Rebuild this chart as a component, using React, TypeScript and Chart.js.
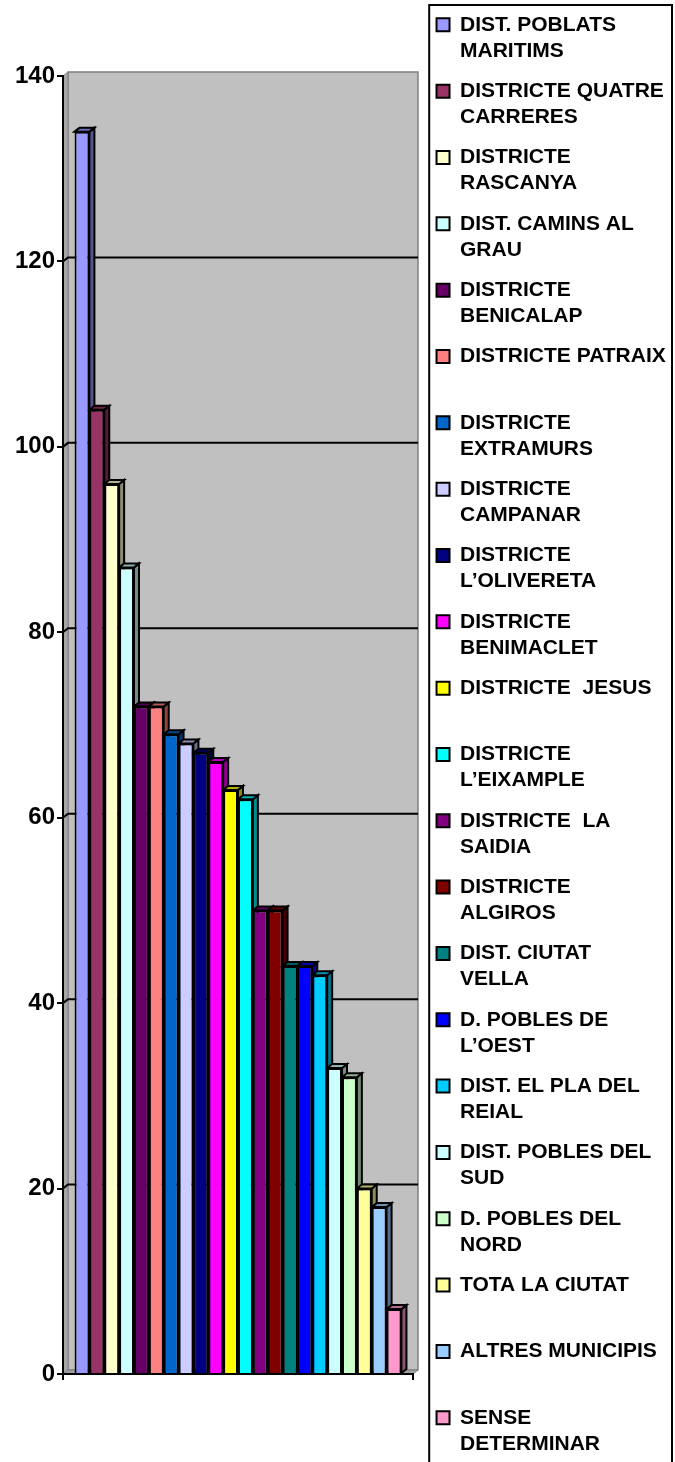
import React, { useEffect, useRef } from 'react';
import { Chart, registerables } from 'chart.js';

Chart.register(...registerables);

const categories = [''];

const districtNames: string[][] = [
  ['DIST. POBLATS', 'MARITIMS'],
  ['DISTRICTE QUATRE', 'CARRERES'],
  ['DISTRICTE', 'RASCANYA'],
  ['DIST. CAMINS AL', 'GRAU'],
  ['DISTRICTE', 'BENICALAP'],
  ['DISTRICTE PATRAIX'],
  ['DISTRICTE', 'EXTRAMURS'],
  ['DISTRICTE', 'CAMPANAR'],
  ['DISTRICTE', 'L\u2019OLIVERETA'],
  ['DISTRICTE', 'BENIMACLET'],
  ['DISTRICTE  JESUS'],
  ['DISTRICTE', 'L\u2019EIXAMPLE'],
  ['DISTRICTE  LA', 'SAIDIA'],
  ['DISTRICTE', 'ALGIROS'],
  ['DIST. CIUTAT', 'VELLA'],
  ['D. POBLES DE', 'L\u2019OEST'],
  ['DIST. EL PLA DEL', 'REIAL'],
  ['DIST. POBLES DEL', 'SUD'],
  ['D. POBLES DEL', 'NORD'],
  ['TOTA LA CIUTAT'],
  ['ALTRES MUNICIPIS'],
  ['SENSE', 'DETERMINAR'],
];

const districtValues = [134, 104, 96, 87, 72, 72, 69, 68, 67, 66, 63, 62, 50, 50, 44, 44, 43, 33, 32, 20, 18, 7];

const districtColors = [
  '#9999FF', '#993366', '#FFFFCC', '#CCFFFF', '#660066', '#FF8080', '#0066CC', '#CCCCFF',
  '#000080', '#FF00FF', '#FFFF00', '#00FFFF', '#800080', '#800000', '#008080', '#0000FF',
  '#00CCFF', '#CCFFFF', '#CCFFCC', '#FFFF99', '#99CCFF', '#FF99CC',
];

const yMin = 0;
const yMax = 140;
const yStep = 20;

const W = 675;
const H = 1520;
const DX = 5;
const DY = 4;
const FONT = "'Liberation Sans', Arial, sans-serif";

function shade(hex: string, f: number): string {
  const n = parseInt(hex.slice(1), 16);
  const r = Math.round(((n >> 16) & 255) * f);
  const g = Math.round(((n >> 8) & 255) * f);
  const b = Math.round((n & 255) * f);
  return `rgb(${r},${g},${b})`;
}

function poly(ctx: CanvasRenderingContext2D, pts: number[][], fill: string, stroke: string, lw: number) {
  ctx.beginPath();
  ctx.moveTo(pts[0][0], pts[0][1]);
  for (let i = 1; i < pts.length; i++) ctx.lineTo(pts[i][0], pts[i][1]);
  ctx.closePath();
  ctx.fillStyle = fill;
  ctx.fill();
  ctx.strokeStyle = stroke;
  ctx.lineWidth = lw;
  ctx.lineJoin = 'miter';
  ctx.stroke();
}

const wallPlugin = {
  id: 'wall3d',
  beforeDraw(chart: any) {
    const { ctx, chartArea } = chart;
    const { left, right, top, bottom } = chartArea;
    const y = chart.scales.y;
    ctx.save();
    ctx.fillStyle = '#C0C0C0';
    ctx.fillRect(left + DX, top - DY, right - left, bottom - top);
    ctx.strokeStyle = '#808080';
    ctx.lineWidth = 1.5;
    ctx.strokeRect(left + DX, top - DY, right - left, bottom - top);
    poly(ctx, [[left, top], [left + DX, top - DY], [left + DX, bottom - DY], [left, bottom]], '#A6A6A6', '#808080', 1);
    poly(ctx, [[left, bottom], [left + DX, bottom - DY], [right + DX, bottom - DY], [right, bottom]], '#A0A0A0', '#808080', 1);
    ctx.strokeStyle = '#000';
    ctx.lineWidth = 2;
    y.ticks.forEach((t: any) => {
      if (t.value <= yMin || t.value >= yMax) return;
      const py = y.getPixelForValue(t.value);
      ctx.beginPath();
      ctx.moveTo(left, py);
      ctx.lineTo(left + DX, py - DY);
      ctx.lineTo(right + DX, py - DY);
      ctx.stroke();
    });
    ctx.restore();
  },
  beforeDatasetsDraw(chart: any) {
    const { ctx } = chart;
    ctx.save();
    chart.data.datasets.forEach((ds: any, i: number) => {
      const meta = chart.getDatasetMeta(i);
      meta.data.forEach((el: any) => {
        const { x, y, base, width } = el.getProps(['x', 'y', 'base', 'width'], true);
        const l = x - width / 2;
        const r = x + width / 2;
        const col = districtColors[i];
        poly(ctx, [[r, y], [r + DX, y - DY], [r + DX, base - DY], [r, base]], shade(col, 0.55), '#000', 2);
        poly(ctx, [[l, y], [l + DX, y - DY], [r + DX, y - DY], [r, y]], shade(col, 0.7), '#000', 2);
      });
    });
    ctx.restore();
  },
  afterDraw(chart: any) {
    const { ctx } = chart;
    const lg = chart.legend;
    if (!lg) return;
    ctx.save();
    ctx.strokeStyle = '#000';
    ctx.lineWidth = 2;
    ctx.strokeRect(lg.left + 7, lg.top + 5, W - 3 - (lg.left + 7), 1600);
    ctx.restore();
  },
};

export default function App() {
  const ref = useRef<HTMLCanvasElement | null>(null);

  useEffect(() => {
    if (!ref.current) return;
    const chart = new Chart(ref.current, {
      type: 'bar',
      data: {
        labels: categories,
        datasets: districtNames.map((name, i) => ({
          label: name.join(' '),
          data: [districtValues[i]],
          backgroundColor: districtColors[i],
          borderColor: '#000',
          borderWidth: 2,
          barPercentage: 1,
          categoryPercentage: 0.934,
        })),
      },
      options: {
        responsive: false,
        maintainAspectRatio: false,
        animation: false,
        events: [],
        layout: { padding: 0 },
        plugins: {
          tooltip: { enabled: false },
          legend: {
            display: true,
            position: 'right',
            align: 'start',
            maxWidth: 252.8,
            labels: {
              boxWidth: 13,
              boxHeight: 13,
              padding: 14.33,
              color: '#000',
              font: { size: 21, weight: 'bold', family: FONT, lineHeight: '26px' },
              generateLabels: () =>
                districtNames.map((name, i) => ({
                  text: name.length > 1 ? name : [name[0], ''],
                  fillStyle: districtColors[i],
                  strokeStyle: '#000',
                  lineWidth: 2,
                  hidden: false,
                  datasetIndex: i,
                  fontColor: '#000',
                })),
            },
          },
        },
        scales: {
          x: {
            type: 'category',
            position: 'bottom',
            offset: true,
            ticks: { display: false },
            grid: {
              display: true,
              offset: true,
              drawOnChartArea: false,
              drawTicks: true,
              tickLength: 6,
              color: '#000',
              lineWidth: 2,
            },
            border: { display: true, color: '#000', width: 2 },
            afterFit: (s: any) => { s.height = H - 1374; },
          },
          xTop: {
            type: 'category',
            position: 'top',
            display: true,
            ticks: { display: false },
            grid: { display: false },
            border: { display: false },
            afterFit: (s: any) => { s.height = 76; },
          },
          y: {
            type: 'linear',
            position: 'left',
            min: yMin,
            max: yMax,
            ticks: {
              stepSize: yStep,
              color: '#000',
              padding: 2,
              font: { size: 24, weight: 'bold', family: FONT },
            },
            grid: {
              display: true,
              drawOnChartArea: false,
              drawTicks: true,
              tickLength: 6,
              color: '#000',
              lineWidth: 2,
            },
            border: { display: true, color: '#000', width: 2 },
            afterFit: (s: any) => { s.width = 63; },
          },
          yRight: {
            type: 'linear',
            position: 'right',
            display: true,
            ticks: { display: false },
            grid: { display: false },
            border: { display: false },
            afterFit: (s: any) => { s.width = 9.2; },
          },
        },
      } as any,
      plugins: [wallPlugin],
    });
    return () => chart.destroy();
  }, []);

  return (
    <div style={{ position: 'absolute', left: 0, top: 0, width: W, height: 1462, overflow: 'hidden', background: '#fff' }}>
      <canvas ref={ref} width={W} height={H} style={{ width: W, height: H, display: 'block' }} />
    </div>
  );
}
